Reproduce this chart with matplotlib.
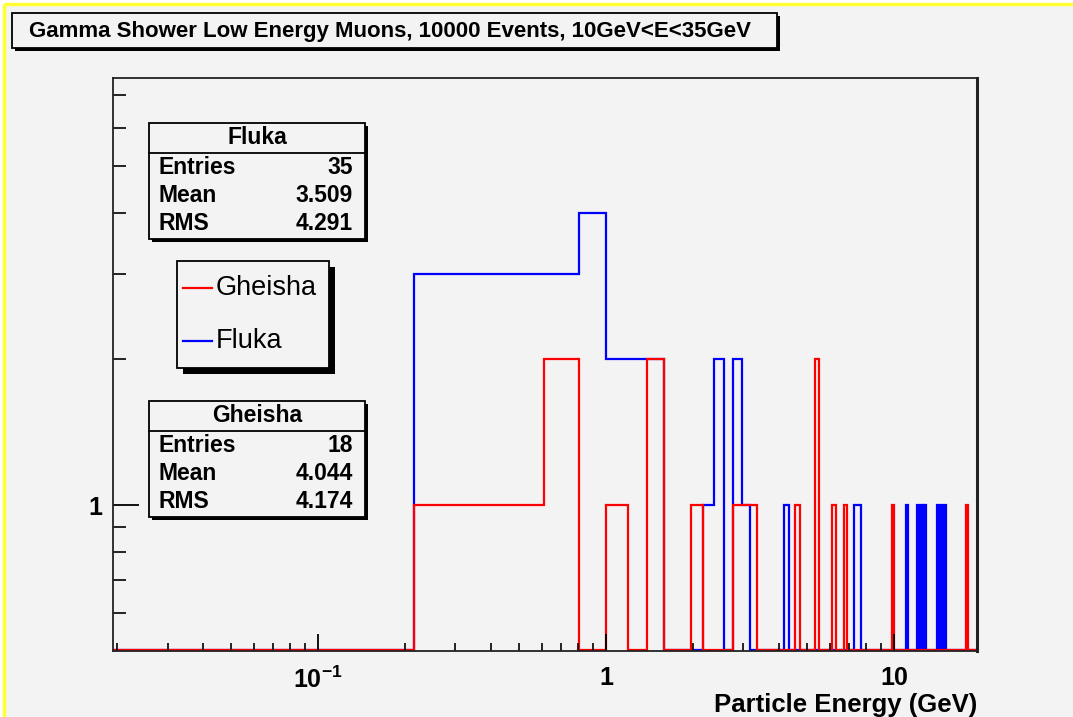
import numpy as np
import matplotlib
matplotlib.use("Agg")
import matplotlib.pyplot as plt
from matplotlib.patches import Rectangle
from matplotlib.ticker import FixedLocator, NullFormatter

plt.rcParams['font.family'] = ['Liberation Sans', 'DejaVu Sans']
plt.rcParams['mathtext.fontset'] = 'custom'
plt.rcParams['mathtext.rm'] = 'Liberation Sans:bold'
plt.rcParams['mathtext.bf'] = 'Liberation Sans:bold'

# histogram binning (GeV)
bin_lo = 0.0194
bin_width = 0.196
n_bins = 100

# bin centres (GeV) and counts
fluka_energy = [0.31, 0.51, 0.71, 0.90, 1.10, 1.29, 1.49, 2.27, 2.47, 2.86, 3.06,
                4.23, 7.37, 7.57, 11.09, 12.07, 12.46, 12.86,
                14.23, 14.62, 15.01]
fluka_counts = [3, 3, 3, 4, 2, 2, 2, 1, 2, 2, 1,
                1, 1, 1, 1, 1, 1, 1,
                1, 1, 1]
gheisha_energy = [0.31, 0.51, 0.71, 1.10, 1.49, 2.08, 2.86, 3.06, 3.25, 4.63,
                  5.41, 6.19, 6.78, 9.92, 17.95]
gheisha_counts = [1, 1, 2, 1, 2, 1, 1, 1, 1, 1,
                  2, 1, 1, 1, 1]

title = "Gamma Shower Low Energy Muons, 10000 Events, 10GeV<E<35GeV"
stats = {
    'Fluka': [('Entries', '35'), ('Mean', '3.509'), ('RMS', '4.291')],
    'Gheisha': [('Entries', '18'), ('Mean', '4.044'), ('RMS', '4.174')],
}

W, H = 1073, 717
bg = '#f3f3f3'
fig = plt.figure(figsize=(W / 100, H / 100), dpi=100, facecolor='white')

edges = bin_lo + bin_width * np.arange(n_bins + 1)
y_lo, y_hi = 0.5, 7.6
x_lo, x_hi = 0.0194, 19.42

ax = fig.add_axes([113 / W, 1 - 651 / H, 864 / W, 573 / H])
ax.set_facecolor(bg)
ax.set_xscale('log')
ax.set_yscale('log')
ax.set_xlim(x_lo, x_hi)
ax.set_ylim(y_lo, y_hi)

# empty bins sit on the bottom of the frame, as ROOT draws them on a log axis
for en, cnt, col in [(fluka_energy, fluka_counts, 'blue'),
                     (gheisha_energy, gheisha_counts, 'red')]:
    h, _ = np.histogram(en, bins=edges, weights=cnt)
    ax.stairs(np.where(h > 0, h, y_lo * 1.005), edges, baseline=None, color=col, lw=1.6)

ax.xaxis.set_major_locator(FixedLocator([0.1, 1, 10]))
ax.xaxis.set_minor_locator(FixedLocator([m * 10.0 ** e for e in (-2, -1, 0, 1) for m in range(2, 10)]))
ax.yaxis.set_major_locator(FixedLocator([1]))
ax.yaxis.set_minor_locator(FixedLocator([0.6, 0.7, 0.8, 0.9, 2, 3, 4, 5, 6, 7]))
ax.set_xticklabels([r'$10^{-1}$', '1', '10'], fontsize=18, fontweight='bold')
ax.set_yticklabels(['1'], fontsize=18, fontweight='bold')
ax.xaxis.set_minor_formatter(NullFormatter())
ax.yaxis.set_minor_formatter(NullFormatter())
ax.tick_params(axis='x', which='major', direction='in', length=12, width=1.3, pad=11)
ax.tick_params(axis='x', which='minor', direction='in', length=6, width=1.2)
ax.tick_params(axis='y', which='major', direction='in', length=19, width=1.3, pad=8)
ax.tick_params(axis='y', which='minor', direction='in', length=9.5, width=1.2)
for s in ax.spines.values():
    s.set_linewidth(1.3)
    s.set_color('#222222')
ax.spines['right'].set_linewidth(2.2)

# overlay in pixel coordinates for ROOT style boxes
ov = fig.add_axes([0, 0, 1, 1], zorder=5)
ov.set_xlim(0, W)
ov.set_ylim(H, 0)
ov.axis('off')
ov.patch.set_alpha(0)

# page background and yellow frame
fig.patches.append(Rectangle((4 / W, 0), 1, 1 - 4 / H, transform=fig.transFigure,
                             facecolor=bg, edgecolor='none', zorder=-10))
ov.plot([4, W], [4, 4], color='#ffff33', lw=2.5, solid_capstyle='butt')
ov.plot([4, 4], [4, H], color='#ffff33', lw=2.5, solid_capstyle='butt')


def box(x0, y0, x1, y1, shadow=3):
    ov.add_patch(Rectangle((x0 + shadow, y0 + shadow), x1 - x0, y1 - y0,
                           facecolor='black', edgecolor='none', zorder=1))
    ov.add_patch(Rectangle((x0, y0), x1 - x0, y1 - y0, facecolor=bg,
                           edgecolor='black', lw=1.3, zorder=2))


# title
box(12, 13, 777, 48, shadow=3)
ov.text(29, 31, title, fontsize=16, fontweight='bold', va='center', ha='left', zorder=3)

# stat boxes
for name, top in [('Fluka', 123), ('Gheisha', 401)]:
    x0, x1 = 149, 365
    box(x0, top, x1, top + 116, shadow=3)
    ov.plot([x0, x1], [top + 30, top + 30], color='black', lw=1.3, zorder=3)
    ov.text((x0 + x1) / 2, top + 15, name, fontsize=16.5, fontweight='bold',
            ha='center', va='center', zorder=3)
    for i, (lab, val) in enumerate(stats[name]):
        yy = top + 44 + 28 * i
        ov.text(159, yy, lab, fontsize=16.5, fontweight='bold', ha='left', va='center', zorder=3)
        ov.text(353, yy, val, fontsize=16.5, fontweight='bold', ha='right', va='center', zorder=3)

# legend
box(177, 261, 329, 368, shadow=6)
for yy, col, lab in [(288, 'red', 'Gheisha'), (341, 'blue', 'Fluka')]:
    ov.plot([183, 212], [yy, yy], color=col, lw=1.6, zorder=3)
    ov.text(216, yy, lab, fontsize=19.5, ha='left', va='center', zorder=3)

# axis title
ov.text(977, 705, 'Particle Energy (GeV)', fontsize=18.5, fontweight='bold',
        ha='right', va='center', zorder=3)

fig.savefig('out.png', dpi=100, facecolor='white')
